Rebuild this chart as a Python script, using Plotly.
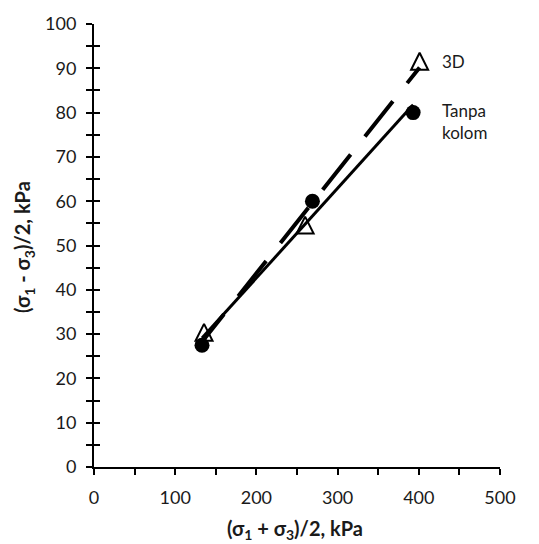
import numpy as np
import plotly.graph_objects as go

# Stress-path points: mean stress p = (s1+s3)/2 and deviator q = (s1-s3)/2, kPa
p_3d = [135.5, 260, 401]
q_3d = [30.4, 54.6, 91.6]
p_tanpa = [133, 269, 393]
q_tanpa = [27.5, 60, 80]

series_names = ["3D", "Tanpa kolom"]
x_ticks = [0, 100, 200, 300, 400, 500]
y_ticks = [0, 10, 20, 30, 40, 50, 60, 70, 80, 90, 100]

FONT = "Lato"
INK = "#1a1a1a"


def trend(px, qy):
    """Least-squares line spanning the data range."""
    slope, icpt = np.polyfit(px, qy, 1)
    xs = np.array([min(px), max(px)])
    return xs, slope * xs + icpt


fig = go.Figure()

# markers
fig.add_trace(go.Scatter(
    x=p_3d, y=q_3d, mode="markers", name=series_names[0],
    marker=dict(symbol="arrow-down", angle=180, standoff=8.5, size=17,
                color="white", line=dict(color="black", width=2)),
))
fig.add_trace(go.Scatter(
    x=p_tanpa, y=q_tanpa, mode="markers", name=series_names[1],
    marker=dict(symbol="circle", size=15, color="black",
                line=dict(color="black", width=0)),
))

# linear trend lines
tx, ty = trend(p_3d, q_3d)
fig.add_trace(go.Scatter(
    x=tx, y=ty, mode="lines", hoverinfo="skip",
    line=dict(color="black", width=4,
              dash="32px,23px,45px,23px,45px,23px,45px,23px,45px,23px,45px,23px"),
))
sx, sy = trend(p_tanpa, q_tanpa)
fig.add_trace(go.Scatter(
    x=sx, y=sy, mode="lines", hoverinfo="skip",
    line=dict(color="black", width=3),
))

tickfont = dict(family=FONT, size=18, color=INK)
axis_common = dict(
    showgrid=False, zeroline=False, showline=True, linecolor="black",
    linewidth=2, ticks="outside", ticklen=6, tickwidth=2, tickcolor="black",
    tickfont=tickfont,
)

fig.update_layout(
    width=539, height=544,
    margin=dict(l=94, r=39, t=20, b=77),
    paper_bgcolor="white", plot_bgcolor="white",
    showlegend=False,
    xaxis=dict(range=[0, 500], tickvals=x_ticks, ticklabelstandoff=7,
               minor=dict(dtick=50, ticks="outside", ticklen=6,
                          tickwidth=2, tickcolor="black"),
               **axis_common),
    yaxis=dict(range=[0, 100], tickvals=y_ticks, ticklabelstandoff=6,
               minor=dict(dtick=5, ticks="outside", ticklen=6,
                          tickwidth=2, tickcolor="black"),
               **axis_common),
    # inner half of the crossing tick marks on the value axis
    yaxis2=dict(range=[0, 100], overlaying="y", anchor="x", side="left",
                dtick=5, tick0=0, ticks="inside", ticklen=6, tickwidth=2,
                tickcolor="black", showticklabels=False, showline=False,
                showgrid=False, zeroline=False),
)

# dummy trace to activate yaxis2
fig.add_trace(go.Scatter(x=[None], y=[None], yaxis="y2", hoverinfo="skip"))

title_font = dict(family=FONT, size=20, color=INK)
fig.add_annotation(
    text="<b>(σ<sub>1</sub> + σ<sub>3</sub>)/2, kPa</b>",
    xref="paper", yref="paper", x=0.495, y=-0.141,
    xanchor="center", yanchor="middle", showarrow=False, font=title_font,
)
fig.add_annotation(
    text="<b>(σ<sub>1</sub> - σ<sub>3</sub>)/2, kPa</b>",
    xref="paper", yref="paper", x=-0.172, y=0.497, textangle=-90,
    xanchor="center", yanchor="middle", showarrow=False, font=title_font,
)

label_font = dict(family=FONT, size=17, color=INK)
fig.add_annotation(
    text=series_names[0], x=426, y=91.5, xref="x", yref="y",
    xanchor="left", yanchor="middle", showarrow=False, font=label_font,
)
fig.add_annotation(
    text="Tanpa<br>kolom", x=426, y=78, xref="x", yref="y",
    xanchor="left", yanchor="middle", align="left", showarrow=False,
    font=label_font,
)

fig.write_html("out.html")
